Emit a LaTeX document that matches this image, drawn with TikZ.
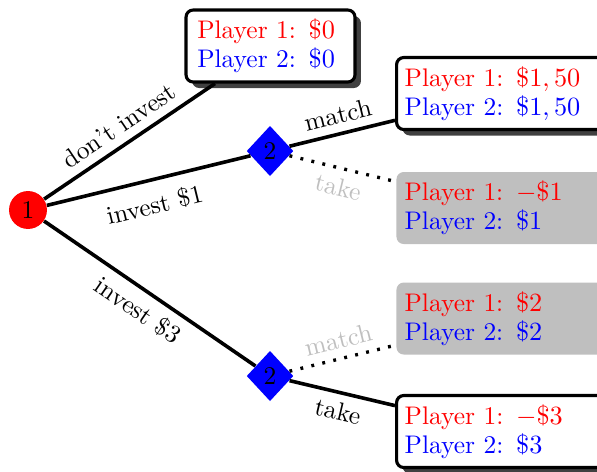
\documentclass[tikz,border=0pt]{standalone}
\usetikzlibrary{shapes.geometric,shadows}
\begin{document}
\begin{tikzpicture}[x=0.41667pt,y=-0.41667pt,
  font=\fontsize{10.6pt}{12.1pt}\selectfont,
  p1/.style={circle,fill=red,minimum size=15.8pt,inner sep=0pt},
  p2/.style={diamond,fill=blue,minimum width=19.5pt,minimum height=21pt,inner sep=0pt},
  payoff/.style={rectangle,rounded corners=3pt,align=left,inner xsep=3.4pt,inner ysep=3pt,minimum height=30pt},
  shown/.style={payoff,draw,line width=1.3pt,fill=white,
    drop shadow={shadow xshift=2.5pt,shadow yshift=-2.5pt,fill=black!75,opacity=1}},
  hidden/.style={payoff,fill=gray!50},
  move/.style={line width=1.5pt},
  offpath/.style={line width=1.4pt,dash pattern=on 1.2pt off 3.5pt},
  lbl/.style={midway,sloped},
  ghost/.style={text=gray!50}]
\useasboundingbox (0,0) rectangle (597,471);

% decision nodes
\node[p1] (r) at (28,210) {1};
\node[p2] (a) at (270,151) {2};
\node[p2] (b) at (270,376) {2};

% payoffs
\node[shown,minimum width=70.4pt,text width=61pt,inner xsep=4.6pt] (n0) at (270.5,46)
  {\textcolor{red}{Player 1: $\$0$}\\\textcolor{blue}{Player 2: $\$0$}};
\node[shown,anchor=west,text width=83pt] (am) at (395,93.5)
  {\textcolor{red}{Player 1: $\$1,50$}\\\textcolor{blue}{Player 2: $\$1,50$}};
\node[hidden,anchor=west,text width=83pt] (at) at (396,208)
  {\textcolor{red}{Player 1: $-\$1$}\\\textcolor{blue}{Player 2: $\$1$}};
\node[hidden,anchor=west,text width=83pt] (bm) at (396,318.5)
  {\textcolor{red}{Player 1: $\$2$}\\\textcolor{blue}{Player 2: $\$2$}};
\node[shown,anchor=west,text width=83pt] (bt) at (395,431.5)
  {\textcolor{red}{Player 1: $-\$3$}\\\textcolor{blue}{Player 2: $\$3$}};

% moves of player 1
\draw[move] (r) -- node[lbl,above] {don't invest} (n0);
\draw[move] (r) -- node[lbl,below=2pt] {invest \$1} (a);
\draw[move] (r) -- node[lbl,below] {invest \$3} (b);

% moves of player 2
\draw[move] (a) -- node[lbl,above] {match} (am);
\draw[offpath] (a) -- node[lbl,below,ghost] {take} (at);
\draw[offpath] (b) -- node[lbl,above,ghost] {match} (bm);
\draw[move] (b) -- node[lbl,below] {take} (bt);
\end{tikzpicture}
\end{document}
